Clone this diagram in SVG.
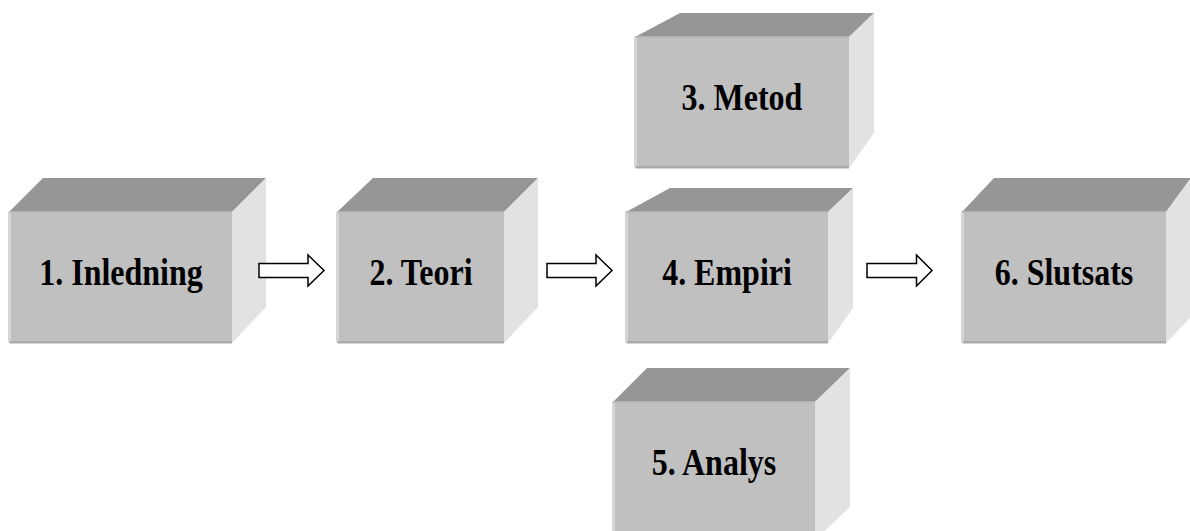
<svg xmlns="http://www.w3.org/2000/svg" width="1190" height="531" viewBox="0 0 1190 531">
<style>
.front{fill:#c0c0c0}
.top{fill:#969696}
.side{fill:#e2e2e2}
.ledge{fill:#d6d6d6}
.bedge{fill:#ababab}
.tedge{fill:#b2b2b2}
.lbl{font-family:"Liberation Serif","Times New Roman",serif;font-weight:bold;font-size:32px;fill:#000;text-anchor:middle}
.arr{fill:#fff;stroke:#000;stroke-width:1.5;stroke-linejoin:miter}
</style>
<rect width="1190" height="531" fill="#fff"/>
<g id="node1">
<polygon class="top" points="9,212 43,178 266,178 232,212"/>
<polygon class="side" points="232,212 266,178 266,307 232,343"/>
<rect class="front" x="9" y="212" width="223" height="131"/>
<rect class="ledge" x="8" y="212" width="3" height="130"/>
<rect class="bedge" x="10" y="341" width="222" height="2.5"/>
<rect class="tedge" x="9" y="211" width="223" height="1.5"/>
<text class="lbl" transform="translate(121,285) scale(1,1.2)">1. Inledning</text>
</g>
<g id="node2">
<polygon class="top" points="337,212 373,178 538,178 504,212"/>
<polygon class="side" points="504,212 538,178 538,307 504,343"/>
<rect class="front" x="337" y="212" width="167" height="131"/>
<rect class="ledge" x="336" y="212" width="3" height="130"/>
<rect class="bedge" x="338" y="341" width="166" height="2.5"/>
<rect class="tedge" x="337" y="211" width="167" height="1.5"/>
<text class="lbl" transform="translate(421,285) scale(1,1.2)">2. Teori</text>
</g>
<g id="node3">
<polygon class="top" points="635,37 680,13 874,13 849,37"/>
<polygon class="side" points="849,37 874,13 874,133 849,168"/>
<rect class="front" x="635" y="37" width="214" height="131"/>
<rect class="ledge" x="634" y="37" width="3" height="130"/>
<rect class="bedge" x="636" y="166" width="213" height="2.5"/>
<rect class="tedge" x="635" y="36" width="214" height="1.5"/>
<text class="lbl" transform="translate(742,110) scale(1,1.2)">3. Metod</text>
</g>
<g id="node4">
<polygon class="top" points="626,212 670,188 853,188 828,212"/>
<polygon class="side" points="828,212 853,188 853,308 828,343"/>
<rect class="front" x="626" y="212" width="202" height="131"/>
<rect class="ledge" x="625" y="212" width="3" height="130"/>
<rect class="bedge" x="627" y="341" width="201" height="2.5"/>
<rect class="tedge" x="626" y="211" width="202" height="1.5"/>
<text class="lbl" transform="translate(727,285) scale(1,1.2)">4. Empiri</text>
</g>
<g id="node5">
<polygon class="top" points="613,402 647,368 850,368 815,402"/>
<polygon class="side" points="815,402 850,368 850,507 815,540"/>
<rect class="front" x="613" y="402" width="202" height="138"/>
<rect class="ledge" x="612" y="402" width="3" height="138"/>
<rect class="tedge" x="613" y="401" width="202" height="1.5"/>
<text class="lbl" transform="translate(714,475) scale(1,1.2)">5. Analys</text>
</g>
<g id="node6">
<polygon class="top" points="962,212 994,178 1191,178 1166,212"/>
<polygon class="side" points="1166,212 1191,178 1191,317 1166,343"/>
<rect class="front" x="962" y="212" width="204" height="131"/>
<rect class="ledge" x="961" y="212" width="3" height="130"/>
<rect class="bedge" x="963" y="341" width="203" height="2.5"/>
<rect class="tedge" x="962" y="211" width="204" height="1.5"/>
<text class="lbl" transform="translate(1064,285) scale(1,1.2)">6. Slutsats</text>
</g>
<g id="connectors">
<polygon class="arr" points="259,263.5 308,263.5 308,255 324,270.5 308,286 308,277.5 259,277.5"/>
<polygon class="arr" points="547,263.5 596,263.5 596,255 612,270.5 596,286 596,277.5 547,277.5"/>
<polygon class="arr" points="867,263.5 916.5,263.5 916.5,255 932,270.5 916.5,286 916.5,277.5 867,277.5"/>
</g>
</svg>
